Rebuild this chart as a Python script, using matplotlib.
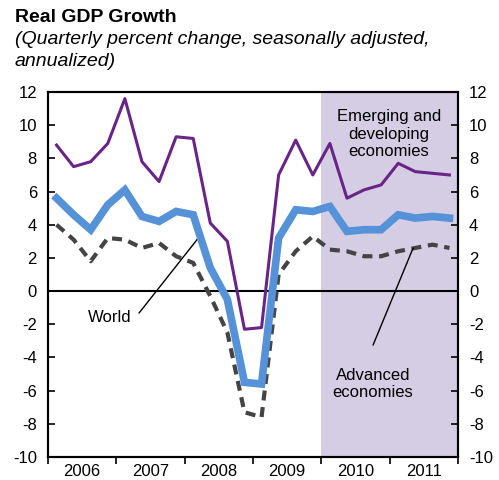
import matplotlib
matplotlib.use("Agg")
import matplotlib.pyplot as plt
import numpy as np

plt.rcParams['font.family'] = ['Liberation Sans', 'DejaVu Sans']

years = ['2006', '2007', '2008', '2009', '2010', '2011']
emerging = [8.8, 7.5, 7.8, 8.9, 11.6, 7.8, 6.6, 9.3, 9.2, 4.1, 3.0, -2.3,
            -2.2, 7.0, 9.1, 7.0, 8.9, 5.6, 6.1, 6.4, 7.7, 7.2, 7.1, 7.0]
world = [5.6, 4.6, 3.7, 5.2, 6.1, 4.5, 4.2, 4.8, 4.6, 1.4, -0.5, -5.5,
         -5.6, 3.2, 4.9, 4.8, 5.1, 3.6, 3.7, 3.7, 4.6, 4.4, 4.5, 4.4]
advanced = [4.0, 3.1, 1.8, 3.2, 3.1, 2.6, 2.9, 2.1, 1.7, -0.3, -2.5, -7.3,
            -7.6, 1.0, 2.4, 3.3, 2.5, 2.4, 2.1, 2.1, 2.4, 2.6, 2.8, 2.6]
yticks = list(range(-10, 13, 2))

n = len(world)
x = np.arange(n) + 0.5

fig = plt.figure(figsize=(4.99, 4.80), dpi=100)
ax = fig.add_axes([48/499, 1-457/480, 410/499, 365/480])

ax.axvspan(16, 24, color='#d5cde3', lw=0, zorder=0)
ax.axhline(0, color='black', lw=1.5, zorder=1)

ax.plot(x, emerging, color='#6a2487', lw=2.2, zorder=3)
ax.plot(x, advanced, color='#444444', lw=3.0, dashes=(2.4, 1.6), zorder=2)
ax.plot(x, world, color='#5592d8', lw=5.5, solid_joinstyle='miter', zorder=4)

ax.set_xlim(0, 24)
ax.set_ylim(-10, 12)
ax.set_yticks(yticks)
ax.set_yticklabels([str(v) for v in yticks])
ax.set_xticks(np.arange(0, 25, 4))
ax.set_xticklabels([])
ax.set_xticks(np.arange(2, 24, 4), minor=True)
ax.set_xticklabels(years, minor=True)
ax.tick_params(axis='x', which='major', direction='out', length=5, width=1.2)
ax.tick_params(axis='x', which='minor', length=0, labelsize=12, pad=5)
ax.tick_params(axis='y', direction='in', length=5, width=1.2, labelsize=12, pad=8)
for s in ax.spines.values():
    s.set_linewidth(1.5)

ax2 = ax.twinx()
ax2.set_ylim(-10, 12)
ax2.set_yticks(yticks)
ax2.set_yticklabels([str(v) for v in yticks])
ax2.tick_params(axis='y', direction='in', length=5, width=1.2, labelsize=12, pad=8)
for s in ax2.spines.values():
    s.set_linewidth(1.5)

# annotations
def dx(px):
    return (px - 48) / 17.08

def dy(py):
    return (291 - py) / 16.6

ax.text(dx(110), dy(317), 'World', ha='center', va='center', fontsize=12)
ax.annotate('', xy=(dx(199), dy(237)), xytext=(dx(139), dy(313)),
            arrowprops=dict(arrowstyle='-', color='black', lw=1.0, shrinkA=0, shrinkB=0))
ax.text(dx(389), dy(134), 'Emerging and\ndeveloping\neconomies', ha='center', va='center',
        fontsize=12, linespacing=1.22)
ax.text(dx(373), dy(384), 'Advanced\neconomies', ha='center', va='center',
        fontsize=12, linespacing=1.22)
ax.annotate('', xy=(dx(413), dy(248)), xytext=(dx(373), dy(345)),
            arrowprops=dict(arrowstyle='-', color='black', lw=1.0, shrinkA=0, shrinkB=0))

fig.text(15/499, 1-17/480, 'Real GDP Growth', fontsize=14, fontweight='bold', va='center', ha='left')
fig.text(15/499, 1-39/480, '(Quarterly percent change, seasonally adjusted,',
         fontsize=14, style='italic', va='center', ha='left')
fig.text(15/499, 1-61/480, 'annualized)',
         fontsize=14, style='italic', va='center', ha='left')

fig.savefig('out.png', dpi=100)
